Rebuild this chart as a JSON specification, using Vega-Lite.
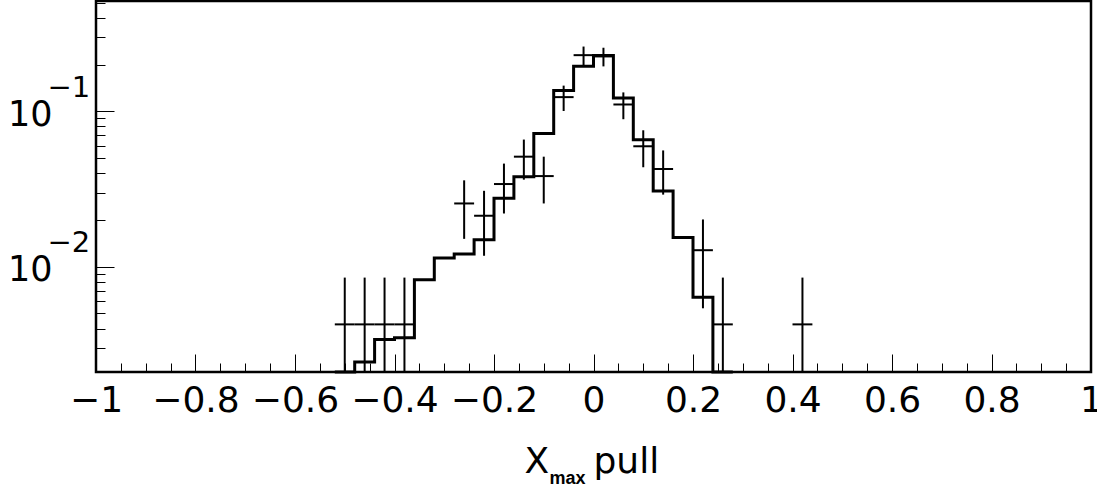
{
  "$schema": "https://vega.github.io/schema/vega-lite/v6.json",
  "autosize": {"type": "none"},
  "padding": {"left": 96, "top": 1, "right": 6, "bottom": 114},
  "width": 995,
  "height": 371,
  "background": "white",
  "datasets": {
    "hist": [
      {"edge": -0.52, "h": 0},
      {"edge": -0.48, "h": 0.00244},
      {"edge": -0.44, "h": 0.00340},
      {"edge": -0.40, "h": 0.00349},
      {"edge": -0.36, "h": 0.00825},
      {"edge": -0.32, "h": 0.01137},
      {"edge": -0.28, "h": 0.01208},
      {"edge": -0.24, "h": 0.01490},
      {"edge": -0.20, "h": 0.02757},
      {"edge": -0.16, "h": 0.03792},
      {"edge": -0.12, "h": 0.07194},
      {"edge": -0.08, "h": 0.1363},
      {"edge": -0.04, "h": 0.1952},
      {"edge": 0.00, "h": 0.2286},
      {"edge": 0.04, "h": 0.1217},
      {"edge": 0.08, "h": 0.0657},
      {"edge": 0.12, "h": 0.0307},
      {"edge": 0.16, "h": 0.01541},
      {"edge": 0.20, "h": 0.00636},
      {"edge": 0.24, "h": 0},
      {"edge": 0.28, "h": 0}
    ],
    "pts": [
      {"c": -0.50, "xl": -0.52, "xr": -0.48, "v": 0.004255, "lo": 0, "hi": 0.00851},
      {"c": -0.46, "xl": -0.48, "xr": -0.44, "v": 0.004255, "lo": 0, "hi": 0.00851},
      {"c": -0.42, "xl": -0.44, "xr": -0.40, "v": 0.004255, "lo": 0, "hi": 0.00851},
      {"c": -0.38, "xl": -0.40, "xr": -0.36, "v": 0.004255, "lo": 0, "hi": 0.00851},
      {"c": -0.26, "xl": -0.28, "xr": -0.24, "v": 0.02553, "lo": 0.01511, "hi": 0.03596},
      {"c": -0.22, "xl": -0.24, "xr": -0.20, "v": 0.02128, "lo": 0.01176, "hi": 0.03079},
      {"c": -0.18, "xl": -0.20, "xr": -0.16, "v": 0.03404, "lo": 0.02200, "hi": 0.04608},
      {"c": -0.14, "xl": -0.16, "xr": -0.12, "v": 0.05106, "lo": 0.03632, "hi": 0.06580},
      {"c": -0.10, "xl": -0.12, "xr": -0.08, "v": 0.03830, "lo": 0.02553, "hi": 0.05106},
      {"c": -0.06, "xl": -0.08, "xr": -0.04, "v": 0.12340, "lo": 0.10049, "hi": 0.14632},
      {"c": -0.02, "xl": -0.04, "xr": 0.00, "v": 0.22979, "lo": 0.19852, "hi": 0.26106},
      {"c": 0.02, "xl": 0.00, "xr": 0.04, "v": 0.22553, "lo": 0.19455, "hi": 0.25651},
      {"c": 0.06, "xl": 0.04, "xr": 0.08, "v": 0.11064, "lo": 0.08894, "hi": 0.13234},
      {"c": 0.10, "xl": 0.08, "xr": 0.12, "v": 0.05957, "lo": 0.04365, "hi": 0.07549},
      {"c": 0.14, "xl": 0.12, "xr": 0.16, "v": 0.04255, "lo": 0.02910, "hi": 0.05601},
      {"c": 0.22, "xl": 0.20, "xr": 0.24, "v": 0.01277, "lo": 0.00540, "hi": 0.02014},
      {"c": 0.26, "xl": 0.24, "xr": 0.28, "v": 0.004255, "lo": 0, "hi": 0.00851},
      {"c": 0.42, "xl": 0.40, "xr": 0.44, "v": 0.004255, "lo": 0, "hi": 0.00851}
    ]
  },
  "layer": [
    {
      "data": {"name": "hist"},
      "mark": {"type": "line", "interpolate": "step-after", "color": "black", "strokeWidth": 3, "strokeCap": "butt", "strokeJoin": "miter"},
      "encoding": {
        "x": {
          "field": "edge", "type": "quantitative",
          "scale": {"domain": [-1, 1], "nice": false, "zero": false},
          "axis": {
            "orient": "bottom",
            "values": [-1, -0.8, -0.6, -0.4, -0.2, 0, 0.2, 0.4, 0.6, 0.8, 1],
            "format": ".2~f",
            "tickSize": -18,
            "labelFontSize": 36,
            "labelBaseline": "alphabetic",
            "labelPadding": 57,
            "labelFlush": false,
            "labelOverlap": false,
            "title": "X",
            "titleFontSize": 36,
            "titleFontWeight": "normal",
            "titleAlign": "left",
            "titleBaseline": "alphabetic",
            "titleX": 428,
            "titleY": 100
          }
        },
        "y": {
          "field": "h", "type": "quantitative",
          "scale": {"type": "log", "domain": [0.002101, 0.5127], "nice": false, "clamp": true},
          "axis": {
            "orient": "left",
            "values": [0.01, 0.1],
            "labelExpr": "'10'",
            "tickSize": -18,
            "labelFontSize": 35,
            "labelAlign": "right",
            "labelBaseline": "alphabetic",
            "labelOffset": 14,
            "labelPadding": 62,
            "labelFlush": false,
            "labelOverlap": false,
            "title": null
          }
        }
      }
    },
    {
      "data": {"name": "pts"},
      "mark": {"type": "rule", "color": "black", "strokeWidth": 2},
      "encoding": {
        "x": {
          "field": "c", "type": "quantitative",
          "scale": {"domain": [-1, 1], "nice": false, "zero": false},
          "axis": {
            "orient": "bottom",
            "values": [-0.95, -0.9, -0.85, -0.75, -0.7, -0.65, -0.55, -0.5, -0.45, -0.35, -0.3, -0.25, -0.15, -0.1, -0.05, 0.05, 0.1, 0.15, 0.25, 0.3, 0.35, 0.45, 0.5, 0.55, 0.65, 0.7, 0.75, 0.85, 0.9, 0.95],
            "tickSize": -9,
            "labels": false,
            "title": "max",
            "titleFont": "Liberation Sans",
            "titleFontSize": 18,
            "titleFontWeight": "bold",
            "titleAlign": "left",
            "titleBaseline": "alphabetic",
            "titleX": 453,
            "titleY": 111
          }
        },
        "y": {
          "field": "lo", "type": "quantitative",
          "scale": {"type": "log", "domain": [0.002101, 0.5127], "nice": false, "clamp": true},
          "axis": {
            "orient": "left",
            "values": [0.003, 0.004, 0.005, 0.006, 0.007, 0.008, 0.009, 0.02, 0.03, 0.04, 0.05, 0.06, 0.07, 0.08, 0.09, 0.2, 0.3, 0.4, 0.5],
            "tickSize": -9,
            "labels": false,
            "title": null
          }
        },
        "y2": {"field": "hi"}
      }
    },
    {
      "data": {"name": "pts"},
      "mark": {"type": "rule", "color": "black", "strokeWidth": 2},
      "encoding": {
        "x": {
          "field": "xl", "type": "quantitative",
          "scale": {"domain": [-1, 1], "nice": false, "zero": false},
          "axis": {
            "orient": "bottom",
            "ticks": false,
            "labels": false,
            "title": "pull",
            "titleFontSize": 36,
            "titleFontWeight": "normal",
            "titleAlign": "left",
            "titleBaseline": "alphabetic",
            "titleX": 497,
            "titleY": 100
          }
        },
        "x2": {"field": "xr"},
        "y": {
          "field": "v", "type": "quantitative",
          "scale": {"type": "log", "domain": [0.002101, 0.5127], "nice": false, "clamp": true},
          "axis": {
            "orient": "left",
            "values": [0.01, 0.1],
            "labelExpr": "datum.value > 0.05 ? '−1' : '−2'",
            "ticks": false,
            "labelFontSize": 29,
            "labelAlign": "left",
            "labelBaseline": "alphabetic",
            "labelOffset": -15,
            "labelPadding": 49,
            "labelFlush": false,
            "labelOverlap": false,
            "title": null
          }
        }
      }
    }
  ],
  "resolve": {"axis": {"x": "independent", "y": "independent"}},
  "config": {
    "view": {"stroke": "black", "strokeWidth": 2.5},
    "axis": {
      "domain": false,
      "grid": false,
      "tickColor": "black",
      "tickWidth": 1,
      "labelColor": "black",
      "labelFont": "DejaVu Sans",
      "titleFont": "DejaVu Sans",
      "titleColor": "black",
      "titlePadding": 0
    }
  }
}
